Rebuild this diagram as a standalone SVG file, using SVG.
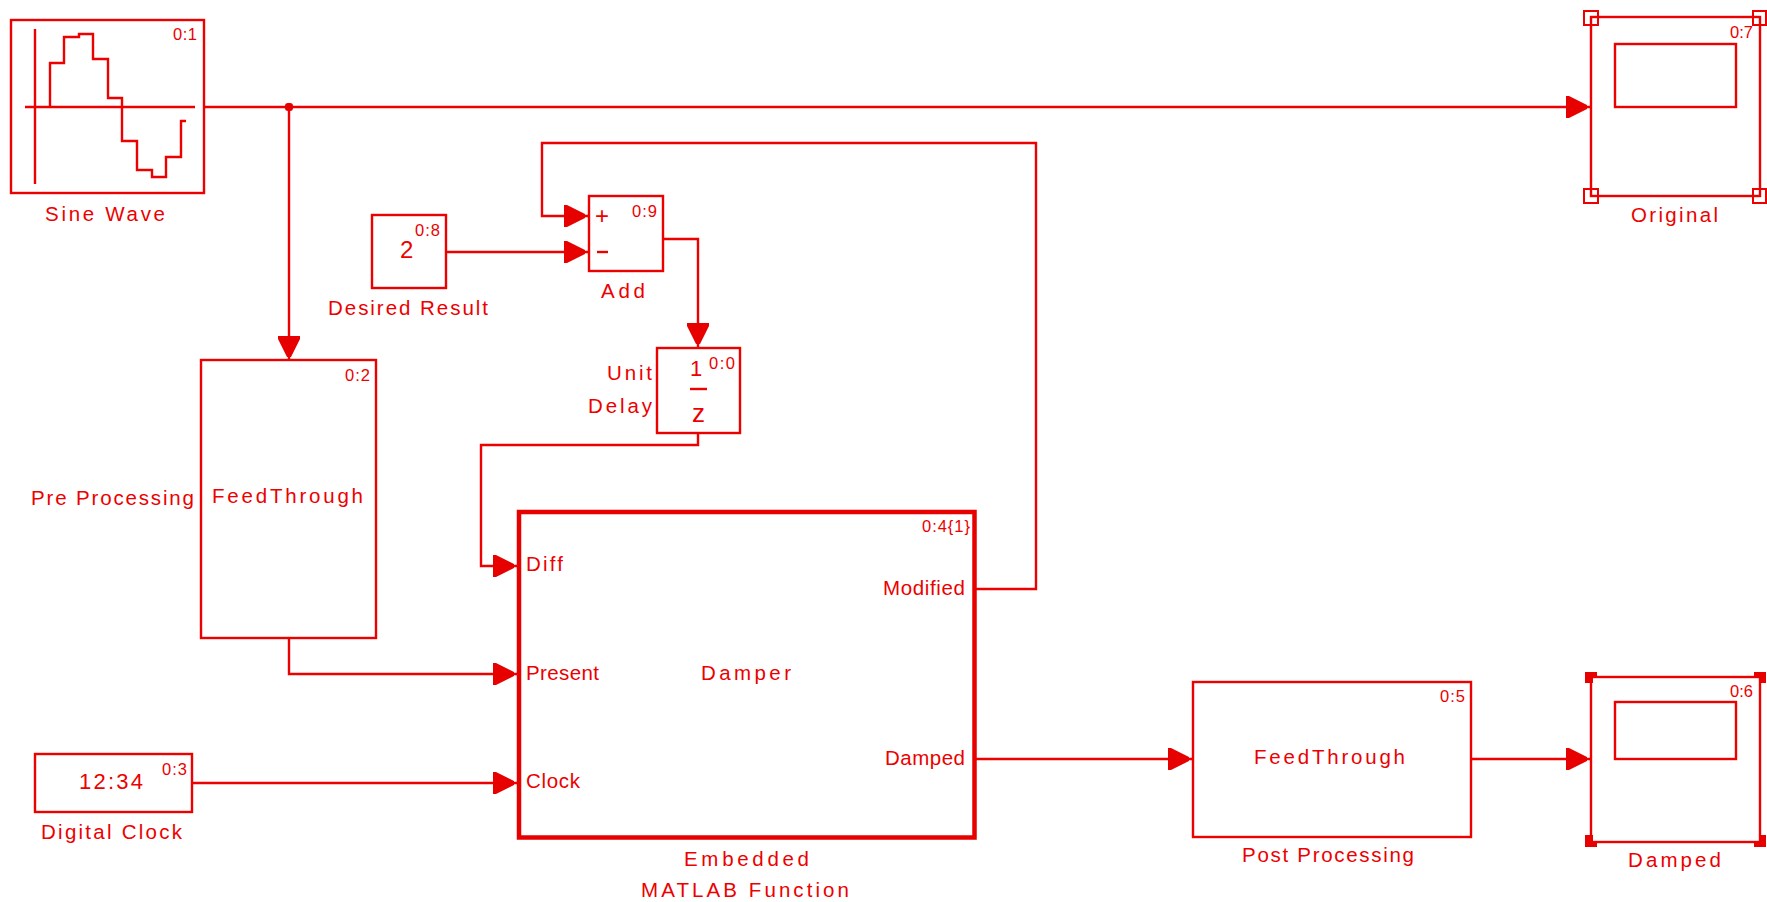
<svg xmlns="http://www.w3.org/2000/svg" width="1767" height="902" viewBox="0 0 1767 902">
<style>
.b{fill:#fff;stroke:#ec0000;stroke-width:2.4}
.l{fill:none;stroke:#ec0000;stroke-width:2.4}
.t{font-family:"Liberation Sans",Arial,sans-serif;font-size:20.5px;fill:#ec0000}
.i{font-family:"Liberation Sans",Arial,sans-serif;font-size:16.5px;fill:#ec0000}
.f{fill:#e60000}
.h{fill:none;stroke:#ec0000;stroke-width:2}
</style>
<defs>
<marker id="a" markerUnits="userSpaceOnUse" markerWidth="24" markerHeight="22" refX="24" refY="11" orient="auto"><path d="M0 0L3 0L21 9V13L3 22H0z" fill="#e60000"/></marker>
</defs>
<rect width="1767" height="902" fill="#fff"/>
<g id="sine-wave">
<rect class="b" x="11" y="20" width="193" height="173"/>
<path class="l" d="M35 29V184M25 107H195M50 107V63H64V37H79V34H93V59H108V98H122V141H137V170H152V177H166V157H181V121H186"/>
<text class="i" x="173" y="40" textLength="24">0:1</text>
<text class="t" x="45" y="221" textLength="120">Sine Wave</text>
</g>
<g id="original">
<rect class="b" x="1591" y="17" width="169" height="179"/>
<rect class="b" x="1615" y="44" width="121" height="63"/>
<path class="h" d="M1584 11h14v14h-14zM1753 11h13v14h-13zM1584 189h14v14h-14zM1753 189h13v14h-13z"/>
<text class="i" x="1730" y="38" textLength="23">0:7</text>
<text class="t" x="1631" y="222" textLength="87">Original</text>
</g>
<g id="desired-result">
<rect class="b" x="372" y="215" width="74" height="73"/>
<text class="t" x="400" y="258" style="font-size:24px">2</text>
<text class="i" x="415" y="236" textLength="25">0:8</text>
<text class="t" x="328" y="315" textLength="160">Desired Result</text>
</g>
<g id="add">
<rect class="b" x="589" y="196" width="74" height="75"/>
<text class="t" x="595" y="224" style="font-size:24px">+</text>
<path class="l" d="M597 252H608"/>
<text class="i" x="632" y="217" textLength="25">0:9</text>
<text class="t" x="601" y="298" textLength="44">Add</text>
</g>
<g id="unit-delay">
<rect class="b" x="657" y="348" width="83" height="85"/>
<text class="t" x="690" y="376" style="font-size:22px">1</text>
<path class="l" d="M690 389H707"/>
<text class="t" x="692" y="422" style="font-size:26px">z</text>
<text class="i" x="709" y="369" textLength="26">0:0</text>
<text class="t" x="607" y="380" textLength="45">Unit</text>
<text class="t" x="588" y="413" textLength="64">Delay</text>
</g>
<g id="pre-processing">
<rect class="b" x="201" y="360" width="175" height="278"/>
<text class="i" x="345" y="381" textLength="25">0:2</text>
<text class="t" x="212" y="503" textLength="151">FeedThrough</text>
<text class="t" x="31" y="505" textLength="163">Pre Processing</text>
</g>
<g id="digital-clock">
<rect class="b" x="35" y="754" width="157" height="58"/>
<text class="t" x="79" y="789" textLength="64" style="font-size:22px">12:34</text>
<text class="i" x="162" y="775" textLength="25">0:3</text>
<text class="t" x="41" y="839" textLength="141">Digital Clock</text>
</g>
<g id="damper">
<rect x="519" y="512" width="455.500" height="325.500" fill="#fff" stroke="#e60000" stroke-width="4.500"/>
<text class="i" x="922" y="532" textLength="48">0:4{1}</text>
<text class="t" x="526" y="571" textLength="37">Diff</text>
<text class="t" x="526" y="680" textLength="73">Present</text>
<text class="t" x="526" y="788" textLength="54">Clock</text>
<text class="t" x="883" y="595" textLength="82">Modified</text>
<text class="t" x="885" y="765" textLength="80">Damped</text>
<text class="t" x="701" y="680" textLength="90">Damper</text>
<text class="t" x="684" y="866" textLength="125">Embedded</text>
<text class="t" x="641" y="897" textLength="208">MATLAB Function</text>
</g>
<g id="post-processing">
<rect class="b" x="1193" y="682" width="278" height="155"/>
<text class="i" x="1440" y="702" textLength="25">0:5</text>
<text class="t" x="1254" y="764" textLength="151">FeedThrough</text>
<text class="t" x="1242" y="862" textLength="172">Post Processing</text>
</g>
<g id="damped">
<rect class="b" x="1591" y="677" width="169" height="165"/>
<rect class="b" x="1615" y="702" width="121" height="57"/>
<path class="f" d="M1585 672h12v5h-4v6h-8zM1754 672h12v11h-6v-6h-6zM1585 835h8v6h4v6h-12zM1760 835h6v12h-12v-5h6z"/>
<text class="i" x="1730" y="697" textLength="23">0:6</text>
<text class="t" x="1628" y="867" textLength="93">Damped</text>
</g>
<g id="connectors">
<path class="l" marker-end="url(#a)" d="M204 107H1590"/>
<path class="l" marker-end="url(#a)" d="M289 107V360"/>
<rect class="f" x="285" y="103" width="8" height="8" rx="3"/>
<path class="l" marker-end="url(#a)" d="M446 252H588"/>
<path class="l" marker-end="url(#a)" d="M976 589H1036V143H542V216H588"/>
<path class="l" marker-end="url(#a)" d="M663 239H698V347"/>
<path class="l" marker-end="url(#a)" d="M698 433V445H481V566H517"/>
<path class="l" marker-end="url(#a)" d="M289 638V674H517"/>
<path class="l" marker-end="url(#a)" d="M192 783H517"/>
<path class="l" marker-end="url(#a)" d="M976 759H1192"/>
<path class="l" marker-end="url(#a)" d="M1471 759H1590"/>
</g>
</svg>
